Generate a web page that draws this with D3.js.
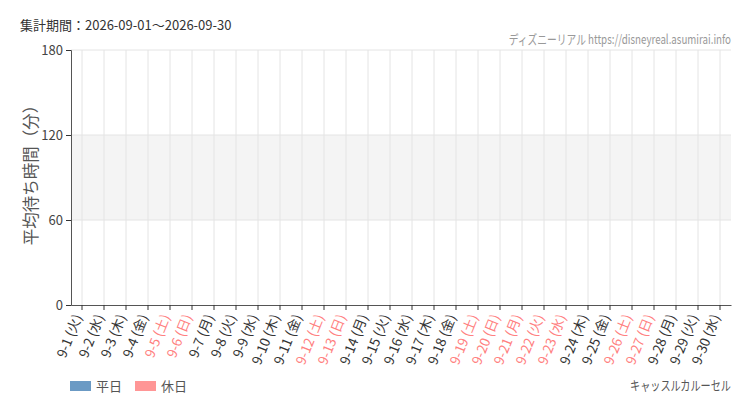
<!DOCTYPE html>
<html lang="ja">
<head>
<meta charset="UTF-8">
<title>キャッスルカルーセル 平均待ち時間</title>
<script src="https://d3js.org/d3.v7.min.js"></script>
<style>
  body { margin: 0; background: #fff; font-family: "Noto Sans CJK JP", "Noto Sans", sans-serif; }
  .tick text { font-family: "Noto Sans CJK JP", "Noto Sans", sans-serif; }
</style>
</head>
<body>
<div id="chart"></div>
<script>
// data
const days = ["9-1", "9-2", "9-3", "9-4", "9-5", "9-6", "9-7", "9-8", "9-9", "9-10",
  "9-11", "9-12", "9-13", "9-14", "9-15", "9-16", "9-17", "9-18", "9-19", "9-20",
  "9-21", "9-22", "9-23", "9-24", "9-25", "9-26", "9-27", "9-28", "9-29", "9-30"];
const weekdays = ["火", "水", "木", "金", "土", "日", "月", "火", "水", "木",
  "金", "土", "日", "月", "火", "水", "木", "金", "土", "日",
  "月", "火", "水", "木", "金", "土", "日", "月", "火", "水"];
const holidays = ["9-5", "9-6", "9-12", "9-13", "9-19", "9-20", "9-21", "9-22", "9-23", "9-26", "9-27"];
const waitTimes = []; // no data in this period
const yTicks = [0, 60, 120, 180];
const period = "集計期間：2026-09-01～2026-09-30";
const attraction = "キャッスルカルーセル";

const W = 750, H = 410;
const margin = {top: 50, right: 19, bottom: 105, left: 71};
const width = W - margin.left - margin.right;
const height = H - margin.top - margin.bottom;

const svg = d3.select('#chart').append('svg')
    .attr('width', W).attr('height', H);

const g = svg.append('g')
    .attr('transform', `translate(${margin.left},${margin.top})`);

const x = d3.scaleBand().domain(days).range([0, width]);
const y = d3.scaleLinear().domain([0, 180]).range([height, 0]);

// shaded band 60-120
g.append('rect')
    .attr('x', 0).attr('width', width)
    .attr('y', y(120)).attr('height', y(60) - y(120))
    .attr('fill', '#f4f4f4');

// vertical grid
g.selectAll('.vgrid').data(days).join('line')
    .attr('class', 'vgrid')
    .attr('x1', d => x(d) + x.bandwidth() / 2)
    .attr('x2', d => x(d) + x.bandwidth() / 2)
    .attr('y1', 0).attr('y2', height)
    .attr('stroke', '#e4e4e4');

// horizontal grid
g.selectAll('.hgrid').data(yTicks.slice(1)).join('line')
    .attr('class', 'hgrid')
    .attr('x1', 0).attr('x2', width)
    .attr('y1', d => y(d)).attr('y2', d => y(d))
    .attr('stroke', '#e4e4e4');

// bars (empty data)
g.selectAll('.bar').data(waitTimes).join('rect')
    .attr('class', 'bar')
    .attr('x', d => x(d.day) + 3)
    .attr('width', x.bandwidth() - 6)
    .attr('y', d => y(d.value))
    .attr('height', d => height - y(d.value))
    .attr('fill', d => holidays.includes(d.day) ? '#ff9696' : '#6b9ac4');

// y axis
const yAxis = g.append('g')
    .call(d3.axisLeft(y).tickValues(yTicks).tickSize(5).tickPadding(3));
yAxis.select('.domain').attr('stroke', '#555');
yAxis.selectAll('.tick line').attr('stroke', '#333');
yAxis.selectAll('.tick text').attr('fill', '#444').style('font-size', '13px');

// x axis
const xAxis = g.append('g')
    .attr('transform', `translate(0,${height})`)
    .call(d3.axisBottom(x).tickSize(5).tickSizeOuter(0)
        .tickFormat((d, i) => `${d} (${weekdays[i]})`));
xAxis.select('.domain').attr('stroke', '#555');
xAxis.selectAll('.tick line').attr('stroke', '#333');
xAxis.selectAll('.tick text')
    .style('font-size', '13.5px')
    .attr('fill', d => holidays.includes(d) ? '#ff8080' : '#333')
    .attr('text-anchor', 'end')
    .attr('dx', '-0.2em')
    .attr('dy', '0.35em')
    .attr('transform', 'rotate(-68)')
    .attr('x', -8).attr('y', 0);

// y label
svg.append('text')
    .attr('transform', `translate(37,171) rotate(-90)`)
    .attr('text-anchor', 'middle')
    .attr('fill', '#555')
    .style('font-size', '16.5px')
    .text('平均待ち時間（分）');

// title
svg.append('text')
    .attr('x', 20).attr('y', 30)
    .attr('fill', '#333')
    .style('font-size', '13px')
    .text(period);

// credit (condensed via horizontal scale)
svg.append('g')
    .attr('transform', `translate(${W - margin.right},44) scale(0.75,1)`)
  .append('text')
    .attr('text-anchor', 'end')
    .attr('fill', '#999')
    .style('font-size', '13px')
    .text('ディズニーリアル https://disneyreal.asumirai.info');

// legend
const legend = [{label: '平日', color: '#6b9ac4'}, {label: '休日', color: '#ff9696'}];
const lg = svg.append('g').attr('transform', 'translate(70,381)');
const li = lg.selectAll('g').data(legend).join('g')
    .attr('transform', (d, i) => `translate(${i * 65},0)`);
li.append('rect').attr('width', 21).attr('height', 10).attr('fill', d => d.color);
li.append('text').attr('x', 26).attr('y', 10)
    .attr('fill', '#555').style('font-size', '13px')
    .text(d => d.label);

// attraction name
svg.append('g')
    .attr('transform', `translate(${W - margin.right},390) scale(0.78,1)`)
  .append('text')
    .attr('text-anchor', 'end')
    .attr('fill', '#555')
    .style('font-size', '13px')
    .text(attraction);
</script>
</body>
</html>
